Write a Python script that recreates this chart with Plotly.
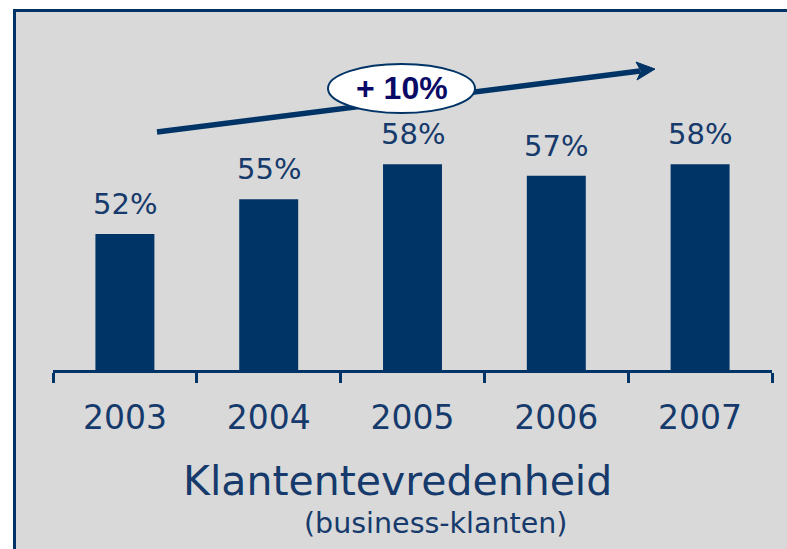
import plotly.graph_objects as go

years = ["2003", "2004", "2005", "2006", "2007"]
values = [52, 55, 58, 57, 58]
labels = ["52%", "55%", "58%", "57%", "58%"]
title_text = "Klantentevredenheid"
subtitle_text = "(business-klanten)"
growth_text = "+ 10%"

W, H = 787, 549
L, R, T, B = 53, 15, 30, 179
PW, PH = W - L - R, H - T - B
NAVY = "#003366"
TXT = "#153a6b"
BG = "#d9d9d9"


# screen-pixel -> paper coordinates (plot area: x 53..772, y 30..370)
def px(x):
    return (x - L) / PW


def py(y):
    return (T + PH - y) / PH


pos = list(range(len(years)))

fig = go.Figure()
fig.add_trace(go.Bar(x=pos, y=values, marker=dict(color=NAVY, line=dict(width=0)),
                     hoverinfo="skip", width=0.41))

annotations = []
for p, v, lab in zip(pos, values, labels):
    annotations.append(dict(x=p, y=v, xref="x", yref="y", text=lab, showarrow=False,
                            yanchor="bottom", yshift=11,
                            font=dict(family="DejaVu Sans", size=29, color=TXT)))

annotations.append(dict(x=px(397.5), y=py(481), xref="paper", yref="paper", text=title_text,
                        showarrow=False, xanchor="center", yanchor="middle",
                        font=dict(family="DejaVu Sans", size=41, color=TXT)))
annotations.append(dict(x=px(435), y=py(523), xref="paper", yref="paper", text=subtitle_text,
                        showarrow=False, xanchor="center", yanchor="middle",
                        font=dict(family="DejaVu Sans", size=28.5, color=TXT)))
annotations.append(dict(x=px(401.5), y=py(88), xref="paper", yref="paper",
                        text="<b>" + growth_text + "</b>",
                        showarrow=False, xanchor="center", yanchor="middle",
                        font=dict(family="Liberation Sans", size=32, color="#0a0a66")))

x0a, y0a, x1a, y1a = 157, 132, 640, 71
tipx, tipy = 655, 69
shapes = [
    dict(type="rect", xref="paper", yref="paper", x0=px(0), x1=px(W), y0=py(0), y1=py(9),
         fillcolor="white", line=dict(width=0), layer="below"),
    dict(type="rect", xref="paper", yref="paper", x0=px(0), x1=px(13), y0=py(0), y1=py(H),
         fillcolor="white", line=dict(width=0), layer="below"),
    dict(type="line", xref="paper", yref="paper", x0=px(13), x1=px(W), y0=py(10.5), y1=py(10.5),
         line=dict(color=NAVY, width=3), layer="above"),
    dict(type="line", xref="paper", yref="paper", x0=px(14.5), x1=px(14.5), y0=py(9), y1=py(H),
         line=dict(color=NAVY, width=3), layer="above"),
    dict(type="line", xref="paper", yref="paper", x0=px(x0a), x1=px(x1a), y0=py(y0a), y1=py(y1a),
         line=dict(color=NAVY, width=5.5), layer="above"),
    dict(type="path", xref="paper", yref="paper",
         path="M {} {} L {} {} L {} {} L {} {} Z".format(
             px(tipx), py(tipy), px(637), py(80), px(641), py(71), px(636), py(62)),
         fillcolor=NAVY, line=dict(color=NAVY, width=1), layer="above"),
    dict(type="circle", xref="paper", yref="paper", x0=px(328), x1=px(475), y0=py(64), y1=py(113),
         fillcolor="white", line=dict(color=NAVY, width=2), layer="above"),
]

fig.update_layout(
    width=W, height=H,
    margin=dict(l=L, r=R, t=T, b=B, pad=0),
    paper_bgcolor=BG, plot_bgcolor=BG,
    showlegend=False,
    annotations=annotations,
    shapes=shapes,
    xaxis=dict(range=[-0.5, len(years) - 0.5], showline=True, linecolor=NAVY, linewidth=3,
               tickmode="array", tickvals=pos, ticktext=years,
               ticks="outside", ticklen=16, tickwidth=1, tickcolor="rgba(0,0,0,0)",
               minor=dict(tickmode="linear", tick0=-0.5, dtick=1, ticks="outside",
                          ticklen=10, tickwidth=3, tickcolor=NAVY, showgrid=False),
               showgrid=False, zeroline=False, tickangle=0, fixedrange=True,
               tickfont=dict(family="DejaVu Sans", size=33, color=TXT)),
    yaxis=dict(range=[40.35, 69.5], visible=False, showgrid=False, zeroline=False,
               fixedrange=True),
)

fig.write_html("out.html",
               config={"displayModeBar": False, "staticPlot": True},
               post_script="document.body.style.margin='0px';document.body.style.overflow='hidden';")
